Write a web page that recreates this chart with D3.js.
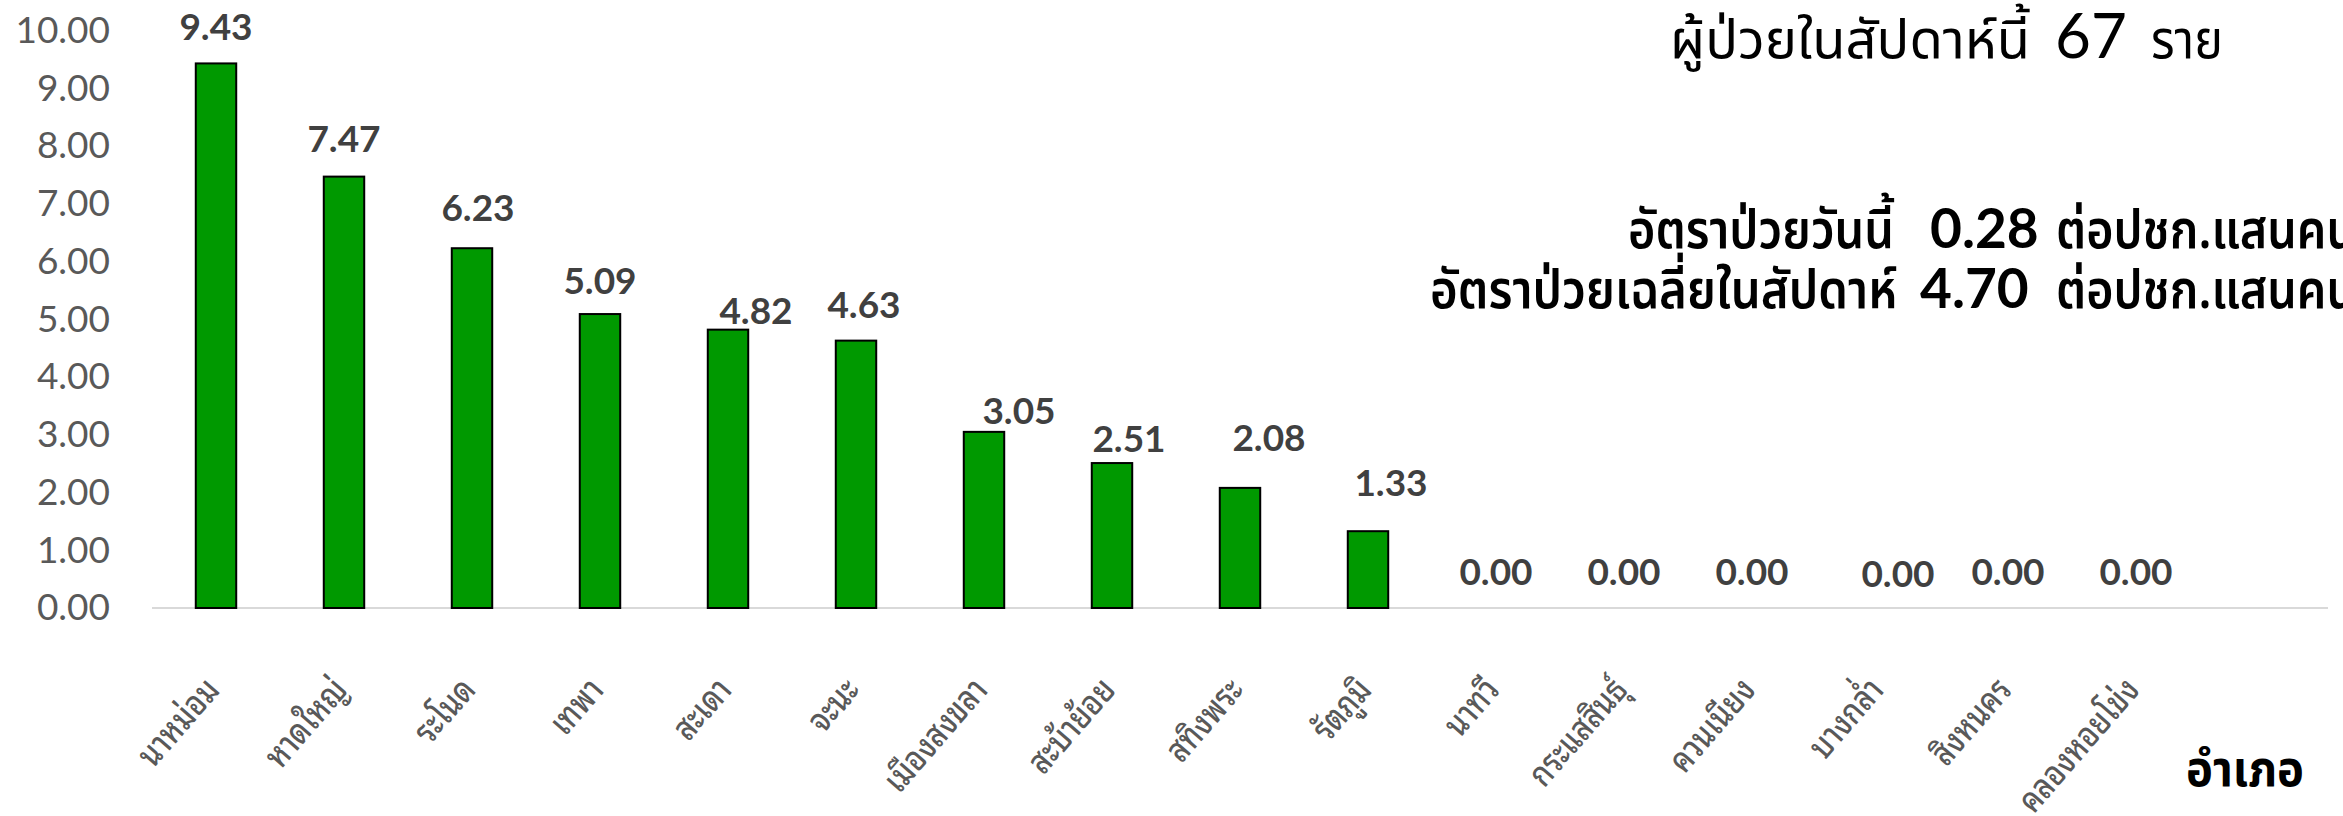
<!DOCTYPE html>
<html>
<head>
<meta charset="utf-8">
<script src="https://cdn.jsdelivr.net/npm/d3@7/dist/d3.min.js"></script>
<style>
  html, body { margin: 0; padding: 0; background: #ffffff; }
  svg { display: block; }
</style>
</head>
<body>
<svg id="chart" width="2343" height="816"></svg>
<script>
// ---------- data ----------
const districts = ["นาหม่อม", "หาดใหญ่", "ระโนด", "เทพา", "สะเดา", "จะนะ", "เมืองสงขลา", "สะบ้าย้อย",
                   "สทิงพระ", "รัตภูมิ", "นาทวี", "กระแสสินธุ์", "ควนเนียง", "บางกล่ำ", "สิงหนคร", "คลองหอยโข่ง"];
const rates = [9.43, 7.47, 6.23, 5.09, 4.82, 4.63, 3.05, 2.51, 2.08, 1.33, 0, 0, 0, 0, 0, 0];
const yTicks = [0, 1, 2, 3, 4, 5, 6, 7, 8, 9, 10];
const weekPatients = 67;
const rateToday = 0.28;
const rateWeekAvg = 4.70;
const xAxisTitle = "อำเภอ";
// manual label nudges (dx, dy) as in the original chart
const labelNudge = [[0,0],[0,-2],[6,-4],[0,3],[28,17],[8,0],[35,15],[17,12],[29,-14],[23,-12],
                    [0,0],[0,0],[0,0],[18,2],[0,0],[0,0]];

// ---------- layout ----------
const W = 2343, H = 816;
const svg = d3.select("#chart");
const x0 = 152, step = 128;
const x = d3.scaleBand().domain(districts).range([x0, x0 + step * districts.length])
  .paddingInner(0.684).paddingOuter(0.342);
const y = d3.scaleLinear().domain([0, 10]).range([608, 30.5]);

const numFont = "Lato, 'Open Sans', 'Liberation Sans', sans-serif";
const thaiLooped = "'Noto Sans Thai Looped', Tahoma, 'Noto Sans Thai', 'Noto Sans', sans-serif";
const thaiPlain = "'Noto Sans Thai', 'Noto Sans Thai UI', 'Noto Sans', sans-serif";

// y axis labels (no axis line)
const yAxis = d3.axisLeft(y).tickValues(yTicks).tickFormat(d3.format(".2f")).tickSize(0).tickPadding(0);
const gy = svg.append("g").attr("transform", "translate(110,0)").call(yAxis);
gy.select(".domain").remove();
gy.selectAll("text")
  .attr("fill", "#595959")
  .style("font-family", numFont)
  .style("font-size", "37px");

// baseline
svg.append("line")
  .attr("x1", x0).attr("x2", 2328)
  .attr("y1", y(0)).attr("y2", y(0))
  .attr("stroke", "#d9d9d9").attr("stroke-width", 2);

// bars
svg.append("g").selectAll("rect")
  .data(rates)
  .join("rect")
  .attr("x", (d, i) => x(districts[i]))
  .attr("width", x.bandwidth())
  .attr("y", d => y(d))
  .attr("height", d => y(0) - y(d))
  .attr("fill", "#009900")
  .attr("stroke", "#000000")
  .attr("stroke-width", 2)
  .attr("display", d => d > 0 ? null : "none");

// value labels
svg.append("g").selectAll("text")
  .data(rates)
  .join("text")
  .attr("x", (d, i) => x(districts[i]) + x.bandwidth() / 2 + labelNudge[i][0])
  .attr("y", (d, i) => y(d) - 23 + labelNudge[i][1])
  .attr("text-anchor", "middle")
  .attr("fill", "#404040")
  .style("font-family", numFont)
  .style("font-weight", "bold")
  .style("font-size", "37px")
  .text(d => d.toFixed(2));

// category labels (rotated, slightly condensed like the original)
svg.append("g").selectAll("text")
  .data(districts)
  .join("text")
  .attr("transform", d => `translate(${x(d) + x.bandwidth() / 2 - 4},683) rotate(-49) scale(0.82,1)`)
  .attr("text-anchor", "end")
  .attr("dy", "0.35em")
  .attr("fill", "#595959")
  .style("font-family", thaiLooped)
  .style("font-weight", "500")
  .style("font-size", "35px")
  .text(d => d);

// x axis title
svg.append("text")
  .attr("x", 2186).attr("y", 786)
  .attr("textLength", 118).attr("lengthAdjust", "spacingAndGlyphs")
  .attr("fill", "#000000")
  .style("font-family", thaiPlain)
  .style("font-weight", "bold")
  .style("font-size", "50px")
  .text(xAxisTitle);

// header: patients this week
const head = svg.append("g");
head.append("text").attr("x", 1670).attr("y", 58)
  .attr("textLength", 360).attr("lengthAdjust", "spacingAndGlyphs")
  .style("font-family", thaiPlain).style("font-size", "54px").attr("fill", "#000")
  .text("ผู้ป่วยในสัปดาห์นี้");
head.append("text").attr("x", 2055).attr("y", 58)
  .style("font-family", numFont).style("font-size", "62px").attr("fill", "#000")
  .text(weekPatients);
head.append("text").attr("x", 2151).attr("y", 58)
  .attr("textLength", 72).attr("lengthAdjust", "spacingAndGlyphs")
  .style("font-family", thaiPlain).style("font-size", "54px").attr("fill", "#000")
  .text("ราย");

// rate lines
const rl = svg.append("g");
const thaiLine = (xx, yy, len, txt) => rl.append("text").attr("x", xx).attr("y", yy)
  .attr("textLength", len).attr("lengthAdjust", "spacingAndGlyphs")
  .style("font-family", thaiPlain).style("font-size", "54px").style("font-weight", "600").attr("fill", "#000")
  .text(txt);
thaiLine(1628, 248, 266, "อัตราป่วยวันนี้");
rl.append("text").attr("x", 1930).attr("y", 248)
  .style("font-family", numFont).style("font-size", "55px").style("font-weight", "bold").attr("fill", "#000")
  .text(rateToday.toFixed(2));
thaiLine(2056, 248, 300, "ต่อปชก.แสนคน");
thaiLine(1430, 308, 467, "อัตราป่วยเฉลี่ยในสัปดาห์");
rl.append("text").attr("x", 1920).attr("y", 308)
  .style("font-family", numFont).style("font-size", "55px").style("font-weight", "bold").attr("fill", "#000")
  .text(rateWeekAvg.toFixed(2));
thaiLine(2056, 308, 300, "ต่อปชก.แสนคน");
</script>
</body>
</html>
